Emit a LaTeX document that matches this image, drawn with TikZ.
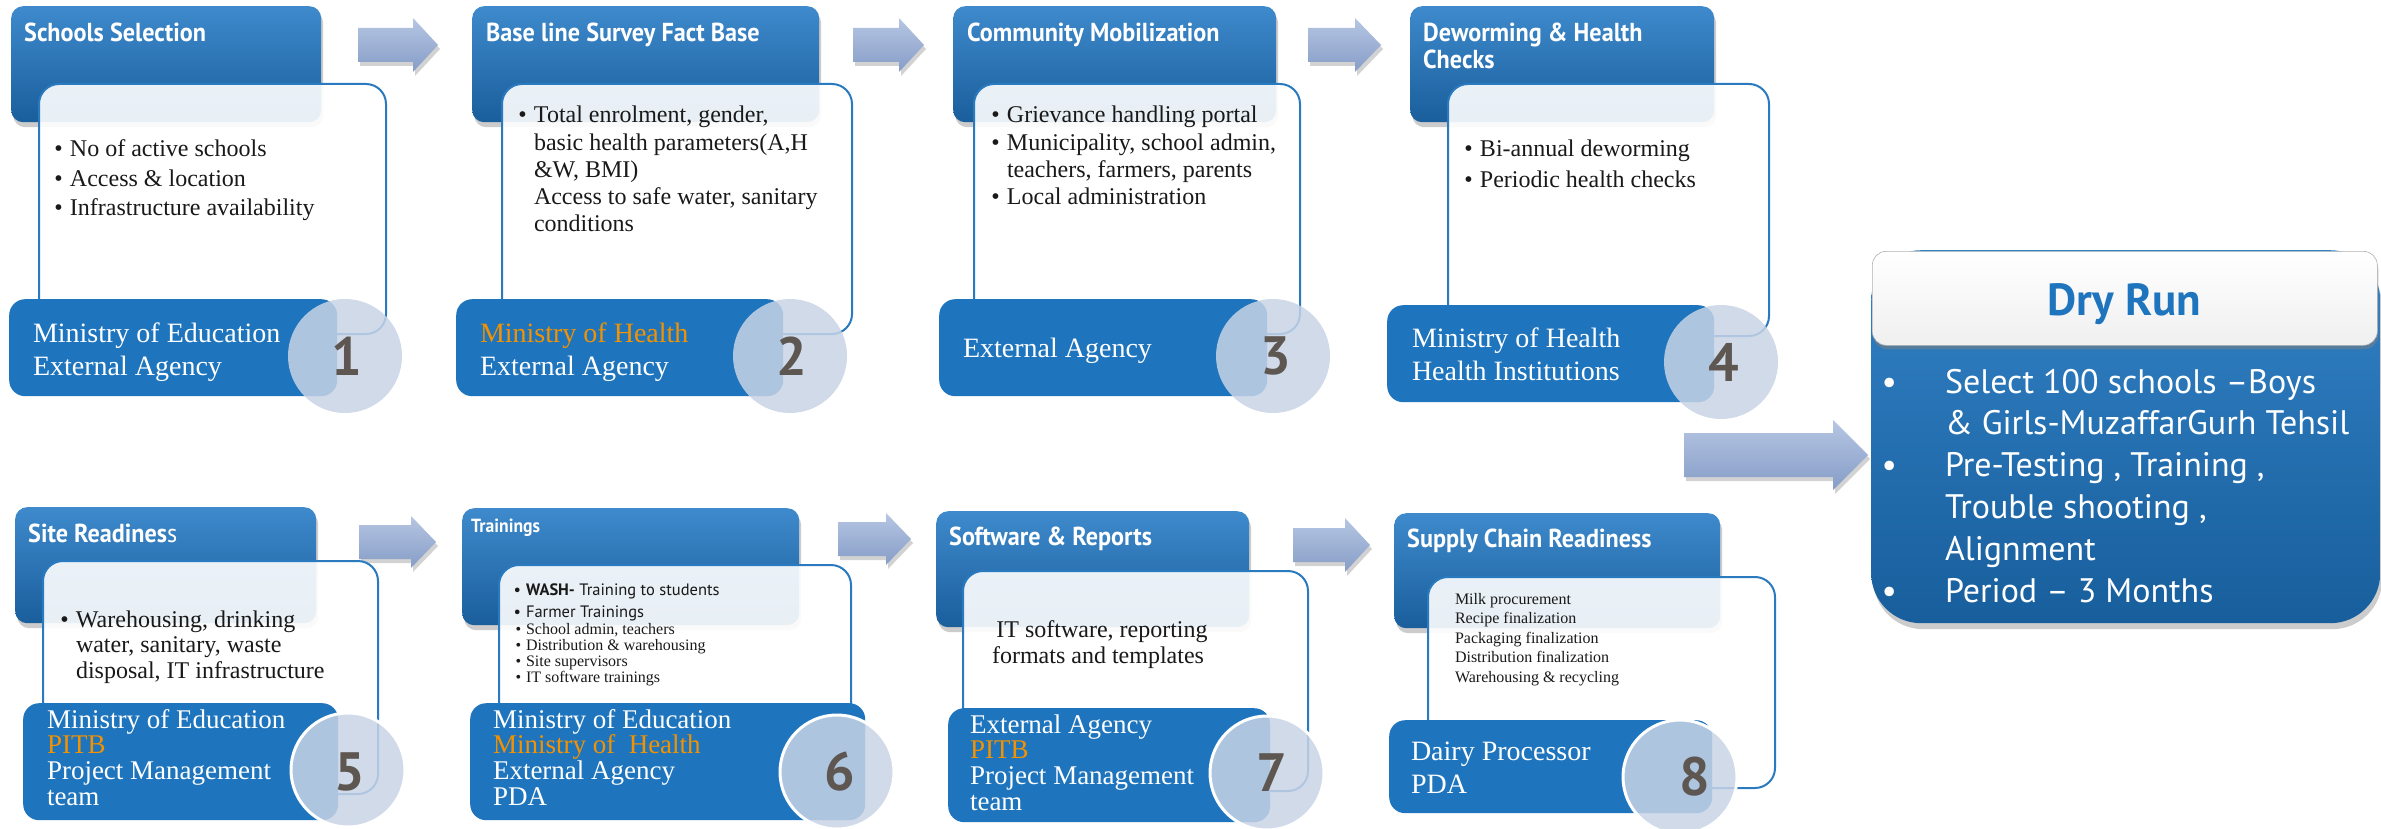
\documentclass[tikz,border=0pt]{standalone}
\usepackage{fontspec}
\setmainfont{Liberation Serif}
\newfontfamily\ptsans{PT Sans}
\newfontfamily\titlesans[FakeStretch=0.93]{PT Sans}
\usetikzlibrary{shadows}
\definecolor{titletop}{RGB}{62,138,204}
\definecolor{titlebot}{RGB}{26,94,156}
\definecolor{boxblue}{RGB}{30,117,189}
\definecolor{edgeblue}{RGB}{42,122,192}
\definecolor{circfill}{RGB}{200,212,230}
\definecolor{numgray}{RGB}{94,86,81}
\definecolor{orangeT}{RGB}{243,146,0}
\definecolor{arrtop}{RGB}{182,198,227}
\definecolor{arrbot}{RGB}{134,157,199}
\definecolor{drytop}{RGB}{50,130,198}
\definecolor{drybot}{RGB}{24,94,156}
\newcommand\bul{\llap{•\hspace{0.3em}}}
\newcommand\dbul{\llap{•\hspace{48pt}}}
\newcommand\tlines[6][]{%
  \foreach \lntext [count=\lnidx from 1] in {#6}{%
    \node[linetxt,#1] (#2\lnidx) at (#3,{#4+(\lnidx-1)*#5}) {\lntext};}}
\newcommand\blockarrow[6]{%
  \path[arrowshade] (#1,#3-#4) -- (#2,#3-#4) -- (#2,#3-#5) -- (#6,#3)
    -- (#2,#3+#5) -- (#2,#3+#4) -- (#1,#3+#4) -- cycle;}
\tikzset{
  linetxt/.style={anchor=base west, inner sep=0pt, outer sep=0pt},
  ser24/.style={font=\fontsize{24}{28}\selectfont, text=black!90},
  ser16/.style={font=\fontsize{16}{19}\selectfont, text=black!90},
  sans16/.style={font=\ptsans\fontsize{16.5}{20}\selectfont, text=black!90},
  who28/.style={font=\fontsize{28}{33}\selectfont, text=white},
  who27/.style={font=\fontsize{27}{30}\selectfont, text=white},
  drytxt/.style={font=\ptsans\fontsize{34}{40}\selectfont, text=white},
  titletxt/.style={anchor=base west, inner sep=0pt, text=white,
    font=\titlesans\bfseries\fontsize{26}{28}\selectfont},
  titlebox/.style={anchor=north west, rounded corners=12pt, inner sep=0pt,
    top color=titletop, bottom color=titlebot,
    drop shadow={shadow xshift=2pt, shadow yshift=-5pt, opacity=0.4}},
  contentbox/.style={anchor=north west, rounded corners=20pt, inner sep=0pt,
    fill=white, fill opacity=0.9, draw=edgeblue, line width=2pt},
  whobox/.style={anchor=north west, rounded corners=16pt, inner sep=0pt, fill=boxblue},
  numcirc/.style={circle, minimum size=114pt, inner sep=0pt, fill=circfill, fill opacity=0.85},
  ringcirc/.style={numcirc, draw=white, line width=3pt},
  numtext/.style={inner sep=0pt, text=numgray, font=\ptsans\bfseries\fontsize{54}{54}\selectfont},
  arrowshade/.style={top color=arrtop, bottom color=arrbot,
    drop shadow={shadow xshift=2pt, shadow yshift=-4pt, opacity=0.35}},
}
\begin{document}
\begin{tikzpicture}[x=1pt, y=-1pt]
\fill[white] (0,0) rectangle (2381,829);
\useasboundingbox (0,0) rectangle (2381,829);

% ---------- block arrows
\blockarrow{358}{413}{45}{17}{27}{438}
\blockarrow{853}{899}{45}{17}{27}{924}
\blockarrow{1308}{1355}{45}{17}{27}{1381}
\blockarrow{359}{411}{542}{17}{26}{436}
\blockarrow{838}{886}{539}{17}{26}{911}
\blockarrow{1293}{1345}{545}{17}{27}{1370}
\blockarrow{1684}{1833}{455}{22}{35}{1868}

% ---------- panel 1
\node[titlebox, minimum width=310, minimum height=116] (t1) at (11,6) {};
\node[titletxt] (tt1) at (24,42) {Schools Selection};
\node[contentbox, minimum width=347, minimum height=250] (b1) at (38,83) {};
\tlines[ser24]{l1-}{70}{157}{29}{{\bul No of active schools},{\bul Access \& location},{\bul Infrastructure availability}}
\node[whobox, minimum width=328, minimum height=97] (w1) at (9,299) {};
\tlines[who28]{o1-}{33}{342}{33}{{Ministry of Education},{External Agency}}
\node[numcirc] (c1) at (345,356) {};
\node[numtext] (n1) at (347,356) {1};

% ---------- panel 2
\node[titlebox, minimum width=347, minimum height=116] (t2) at (472,6) {};
\node[titletxt] (tt2) at (486,42) {Base line Survey Fact Base};
\node[contentbox, minimum width=350, minimum height=250] (b2) at (501,83) {};
\tlines[ser24]{l2-}{534}{123}{27.2}{{\bul Total enrolment, gender,},{basic health parameters(A,H},{\&W, BMI)},{Access to safe water, sanitary},{conditions}}
\node[whobox, minimum width=327, minimum height=97] (w2) at (456,299) {};
\tlines[who28]{o2-}{480}{342}{33}{{\textcolor{orangeT}{Ministry of Health}},{External Agency}}
\node[numcirc] (c2) at (790,356) {};
\node[numtext] (n2) at (792,356) {2};

% ---------- panel 3
\node[titlebox, minimum width=323, minimum height=116] (t3) at (953,6) {};
\node[titletxt] (tt3) at (967,42) {Community Mobilization};
\node[contentbox, minimum width=326, minimum height=250] (b3) at (973,83) {};
\tlines[ser24]{l3-}{1007}{123}{27.3}{{\bul Grievance handling portal},{\bul Municipality, school admin,},{teachers, farmers, parents},{\bul Local administration}}
\node[whobox, minimum width=328, minimum height=97] (w3) at (939,299) {};
\tlines[who28]{o3-}{963}{357}{33}{{External Agency}}
\node[numcirc] (c3) at (1273,356) {};
\node[numtext] (n3) at (1276,356) {3};

% ---------- panel 4
\node[titlebox, minimum width=304, minimum height=116] (t4) at (1410,6) {};
\node[titletxt] (tt4a) at (1423,42) {Deworming \& Health};
\node[titletxt] (tt4b) at (1423,69) {Checks};
\node[contentbox, minimum width=321, minimum height=252] (b4) at (1447,83) {};
\tlines[ser24]{l4-}{1480}{157}{31}{{\bul Bi-annual deworming},{\bul Periodic health checks}}
\node[whobox, minimum width=327, minimum height=97] (w4) at (1387,305) {};
\tlines[who28]{o4-}{1412}{347}{33}{{Ministry of Health},{Health Institutions}}
\node[numcirc] (c4) at (1721,362) {};
\node[numtext] (n4) at (1724,362) {4};

% ---------- panel 5
\node[titlebox, minimum width=301, minimum height=116] (t5) at (15,507) {};
\node[titletxt] (tt5) at (28,542) {Site Readines{\mdseries s}};
\node[contentbox, minimum width=335, minimum height=233] (b5) at (42,560) {};
\tlines[ser24]{l5-}{76}{627}{25.5}{{\bul Warehousing, drinking},{water, sanitary, waste},{disposal, IT infrastructure}}
\node[whobox, minimum width=315, minimum height=117] (w5) at (23,703) {};
\tlines[who27]{o5-}{47}{728}{25.7}{{Ministry of Education},{\textcolor{orangeT}{PITB}},{Project Management},{team}}
\node[ringcirc] (c5) at (348,770) {};
\node[numtext] (n5) at (350,772) {5};

% ---------- panel 6
\node[titlebox, minimum width=337, minimum height=117] (t6) at (462,508) {};
\node[titletxt, font=\titlesans\bfseries\fontsize{19}{22}\selectfont] (tt6) at (471,532) {Trainings};
\node[contentbox, minimum width=352, minimum height=226] (b6) at (498,564) {};
\tlines[sans16]{l6a-}{526}{595}{22}{{\bul\textbf{WASH-} Training to students},{\bul Farmer Trainings}}
\tlines[ser16]{l6b-}{526}{634}{16.3}{{\bul School admin, teachers},{\bul Distribution \& warehousing},{\bul Site supervisors},{\bul IT software trainings}}
\node[whobox, minimum width=395, minimum height=117] (w6) at (470,703) {};
\tlines[who27]{o6-}{493}{728}{25.7}{{Ministry of Education},{\textcolor{orangeT}{Ministry of\ \ Health}},{External Agency},{PDA}}
\node[ringcirc] (c6) at (837,772) {};
\node[numtext] (n6) at (840,772) {6};

% ---------- panel 7
\node[titlebox, minimum width=313, minimum height=116] (t7) at (936,511) {};
\node[titletxt] (tt7) at (949,545) {Software \& Reports};
\node[contentbox, minimum width=345, minimum height=220] (b7) at (962,570) {};
\node[ser24, anchor=base, inner sep=0pt] (l7-1) at (1102,637) {IT software, reporting};
\node[ser24, anchor=base, inner sep=0pt] (l7-2) at (1098,663) {formats and templates};
\node[whobox, minimum width=322, minimum height=114] (w7) at (948,708) {};
\tlines[who27]{o7-}{970}{733}{25.7}{{External Agency},{\textcolor{orangeT}{PITB}},{Project Management},{team}}
\node[ringcirc] (c7) at (1267,773) {};
\node[numtext] (n7) at (1272,773) {7};

% ---------- panel 8
\node[titlebox, minimum width=326, minimum height=115] (t8) at (1394,513) {};
\node[titletxt] (tt8) at (1407,547) {Supply Chain Readiness};
\node[contentbox, minimum width=347, minimum height=211] (b8) at (1427,576) {};
\tlines[ser16]{l8-}{1455}{604}{19.5}{{Milk procurement},{Recipe finalization},{Packaging finalization},{Distribution finalization},{Warehousing \& recycling}}
\node[whobox, minimum width=323, minimum height=93] (w8) at (1389,720) {};
\tlines[who28]{o8-}{1411}{760}{33}{{Dairy Processor},{PDA}}
\node[ringcirc] (c8) at (1680,777) {};
\node[numtext] (n8) at (1695,777) {8};

% ---------- dry run
\node[anchor=north west, inner sep=0pt, minimum width=509, minimum height=373,
  rounded corners=50pt, top color=drytop, bottom color=drybot,
  drop shadow={shadow xshift=2pt, shadow yshift=-6pt, opacity=0.4}] (dry) at (1871,250) {};
\node[anchor=north west, inner sep=0pt, minimum width=505, minimum height=94,
  rounded corners=14pt, top color=white, bottom color=black!6, draw=black!30, line width=0.6pt,
  drop shadow={shadow xshift=1pt, shadow yshift=-4pt, opacity=0.5}] (dryh) at (1872,251) {};
\node[anchor=base, inner sep=0pt, text=boxblue,
  font=\ptsans\bfseries\fontsize{45}{45}\selectfont] (dryt) at (2124,315) {Dry Run};
\tlines[drytxt]{d-}{1945}{393}{41.8}{{\dbul Select 100 schools –Boys},{\& Girls-MuzaffarGurh Tehsil},{\dbul Pre-Testing , Training ,},{Trouble shooting ,},{Alignment},{\dbul Period – 3 Months}}
\end{tikzpicture}
\end{document}
